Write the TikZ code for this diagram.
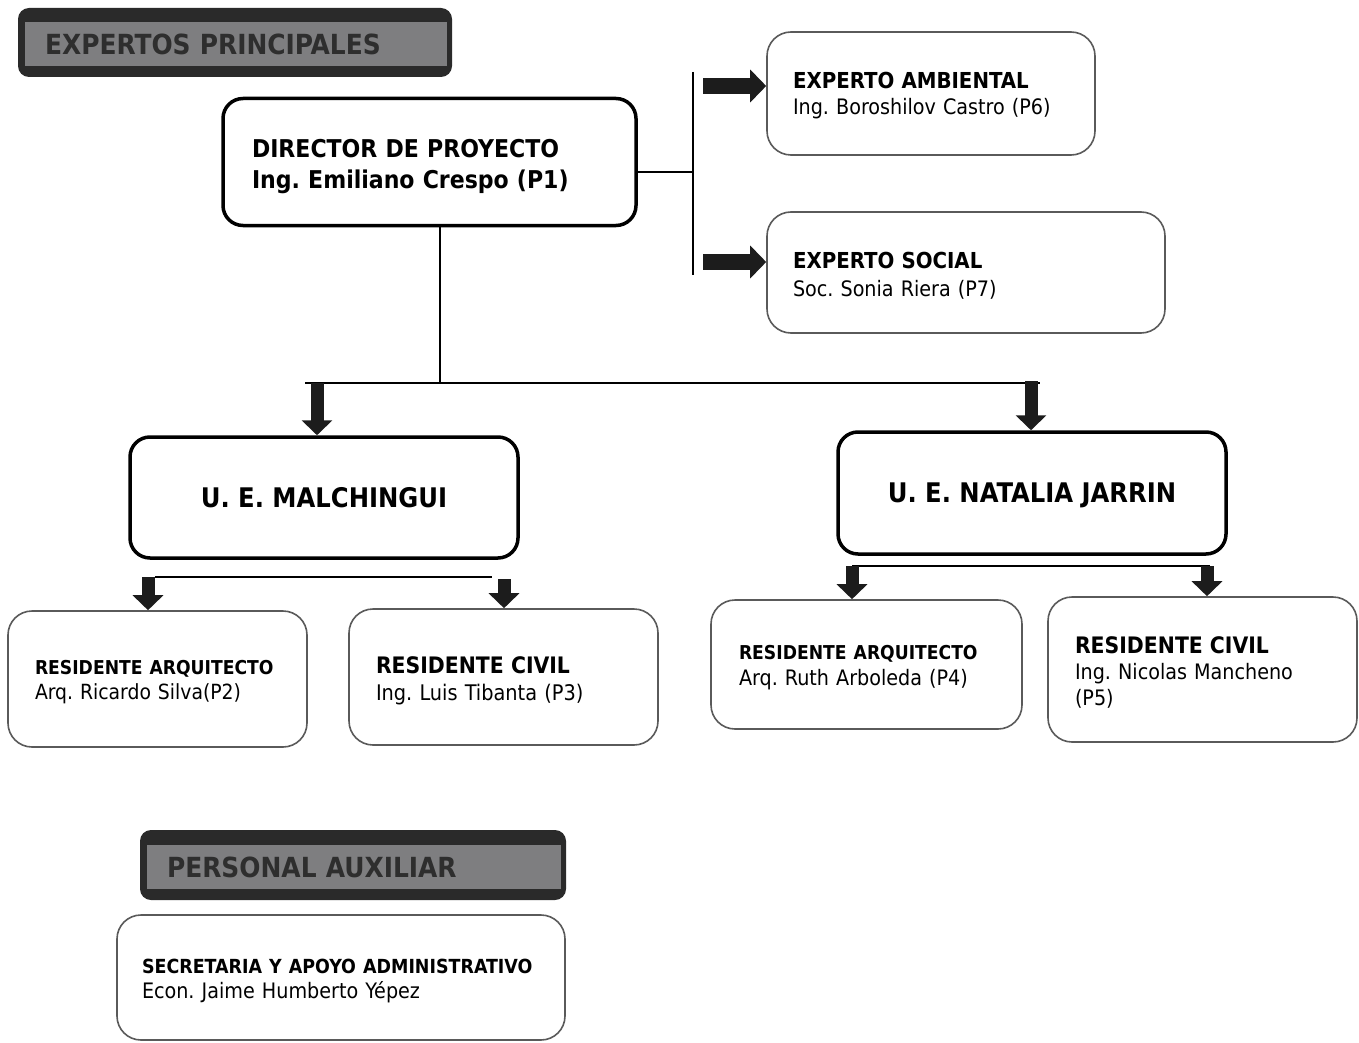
\documentclass[tikz,border=0pt]{standalone}
\usepackage{fontspec}
\setmainfont{DejaVu Sans Condensed}
\usetikzlibrary{arrows.meta,calc}
\definecolor{hdrdark}{HTML}{2A2A2A}
\definecolor{hdrgray}{HTML}{7E7E80}
\definecolor{hdrtext}{HTML}{2E2E2E}
\definecolor{thinline}{HTML}{5A5A5A}
\definecolor{arrowblk}{HTML}{1C1C1C}
\frenchspacing
\newcommand{\upstrut}[1]{\rule{0pt}{#1}}
\begin{document}
\begin{tikzpicture}[x=1pt,y=-1pt,
  thickbox/.style={draw=black,line width=3.5pt,rounded corners=20pt,inner sep=0pt,align=center},
  thinbox/.style={draw=thinline,line width=1.6pt,rounded corners=24pt,align=left,inner sep=0pt},
  hdrouter/.style={fill=hdrdark,rounded corners=11pt,inner sep=0pt},
  hdrband/.style={fill=hdrgray,inner sep=0pt,align=left,text=hdrtext,font=\bfseries\fontsize{27.7}{30}\selectfont},
  conn/.style={line width=2pt,draw=black},
  blockarrow/.style={draw=arrowblk,line width=16pt,-{Triangle[width=32pt,length=16pt]}},
  smallarrow/.style={draw=arrowblk,line width=13pt,-{Triangle[width=30pt,length=15pt]}}
]
\useasboundingbox (0,0) rectangle (1359,1043);
\fill[white] (0,0) rectangle (1359,1043);

% headers
\node[hdrouter,minimum width=434pt,minimum height=69pt] (h1) at (235,42.5) {};
\node[hdrband,minimum width=422pt,minimum height=44pt,text width=382pt] (h1t) at (236,44) {EXPERTOS PRINCIPALES};
\node[hdrouter,minimum width=426pt,minimum height=70pt] (h2) at (353,865) {};
\node[hdrband,minimum width=414pt,minimum height=44pt,text width=374pt] (h2t) at (354,867) {PERSONAL AUXILIAR};

% director
\node[thickbox,align=left,minimum width=413pt,minimum height=127pt,text width=355pt,
      font=\bfseries\fontsize{24.5}{31}\selectfont] (dir) at (429.5,162)
  {\upstrut{28pt}DIRECTOR DE PROYECTO\\Ing. Emiliano Crespo (P1)};

% experts
\node[thinbox,minimum width=328pt,minimum height=123pt,text width=276pt,font=\fontsize{21.3}{26}\selectfont] (amb) at (931,93.5)
  {\upstrut{20.5pt}{\bfseries\fontsize{22}{26}\selectfont EXPERTO AMBIENTAL}\\Ing. Boroshilov Castro (P6)};
\node[thinbox,minimum width=398pt,minimum height=121pt,text width=346pt,font=\fontsize{21.3}{28}\selectfont] (soc) at (966,272.5)
  {\upstrut{22.5pt}{\bfseries\fontsize{22}{28}\selectfont EXPERTO SOCIAL}\\Soc. Sonia Riera (P7)};

% units
\node[thickbox,minimum width=388pt,minimum height=121pt,text depth=0pt,font=\bfseries\fontsize{27}{30}\selectfont] (mal) at (324,497.5) {U. E. MALCHINGUI};
\node[thickbox,minimum width=388pt,minimum height=122pt,text depth=0pt,font=\bfseries\fontsize{27}{30}\selectfont] (nat) at (1032,493) {U. E. NATALIA JARRIN};

% residents
\node[thinbox,minimum width=299pt,minimum height=136pt,text width=245pt,font=\fontsize{20.9}{25}\selectfont] (p2) at (157.5,679)
  {\upstrut{20.5pt}{\bfseries\fontsize{19.1}{25}\selectfont RESIDENTE ARQUITECTO}\\Arq. Ricardo Silva(P2)};
\node[thinbox,minimum width=309pt,minimum height=136pt,text width=255pt,font=\fontsize{21.5}{27}\selectfont] (p3) at (503.5,677)
  {\upstrut{25pt}{\bfseries\fontsize{22.7}{27}\selectfont RESIDENTE CIVIL}\\Ing. Luis Tibanta (P3)};
\node[thinbox,minimum width=311pt,minimum height=129pt,text width=255pt,font=\fontsize{21.3}{26}\selectfont] (p4) at (866.5,664.5)
  {\upstrut{20.5pt}{\bfseries\fontsize{19.1}{26}\selectfont RESIDENTE ARQUITECTO}\\Arq. Ruth Arboleda (P4)};
\node[thinbox,minimum width=309pt,minimum height=145pt,text width=255pt,font=\fontsize{21.3}{26}\selectfont] (p5) at (1202.5,669.5)
  {\upstrut{23pt}{\bfseries\fontsize{22.7}{26}\selectfont RESIDENTE CIVIL}\\Ing. Nicolas Mancheno\\(P5)};

% secretaria
\node[thinbox,minimum width=448pt,minimum height=125pt,text width=398pt,font=\fontsize{21.3}{25}\selectfont] (sec) at (341,977.5)
  {\upstrut{20.5pt}\mbox{\bfseries\fontsize{19.4}{25}\selectfont SECRETARIA Y APOYO ADMINISTRATIVO}\\Econ. Jaime Humberto Yépez};

% connectors: director to experts
\coordinate (jr) at (693,172);
\coordinate (jrt) at (693,72);
\coordinate (jrb) at (693,275);
\draw[conn] (dir.east |- jr) -- (jr);
\draw[conn] (jrt) -- (jrb);
\coordinate (a1) at (703,86);
\coordinate (a2) at (703,262);
\draw[blockarrow] (a1) -- (amb.west |- a1);
\draw[blockarrow] (a2) -- (soc.west |- a2);

% director to units
\coordinate (jd) at (440,383);
\coordinate (hl) at (305,383);
\coordinate (hr) at (1040,383);
\draw[conn] (dir.south -| jd) -- (jd);
\draw[conn] (hl) -- (hr);
\coordinate (d1) at (317,383);
\coordinate (d2) at (1031,381);
\draw[smallarrow] (d1) -- (mal.north -| d1);
\draw[smallarrow] (d2) -- (nat.north -| d2);

% malchingui to residents
\coordinate (mlA) at (155,577);
\coordinate (mlB) at (492,577);
\draw[conn] (mlA) -- (mlB);
\coordinate (m1) at (148,577);
\coordinate (m2) at (504,579);
\draw[smallarrow] (m1) -- (p2.north -| m1);
\draw[smallarrow] (m2) -- (p3.north -| m2);

% natalia to residents
\coordinate (nlA) at (852,566);
\coordinate (nlB) at (1210,566);
\draw[conn] (nlA) -- (nlB);
\coordinate (n1) at (852,566);
\coordinate (n2) at (1207,566);
\draw[smallarrow] (n1) -- (p4.north -| n1);
\draw[smallarrow] (n2) -- (p5.north -| n2);
\end{tikzpicture}
\end{document}
